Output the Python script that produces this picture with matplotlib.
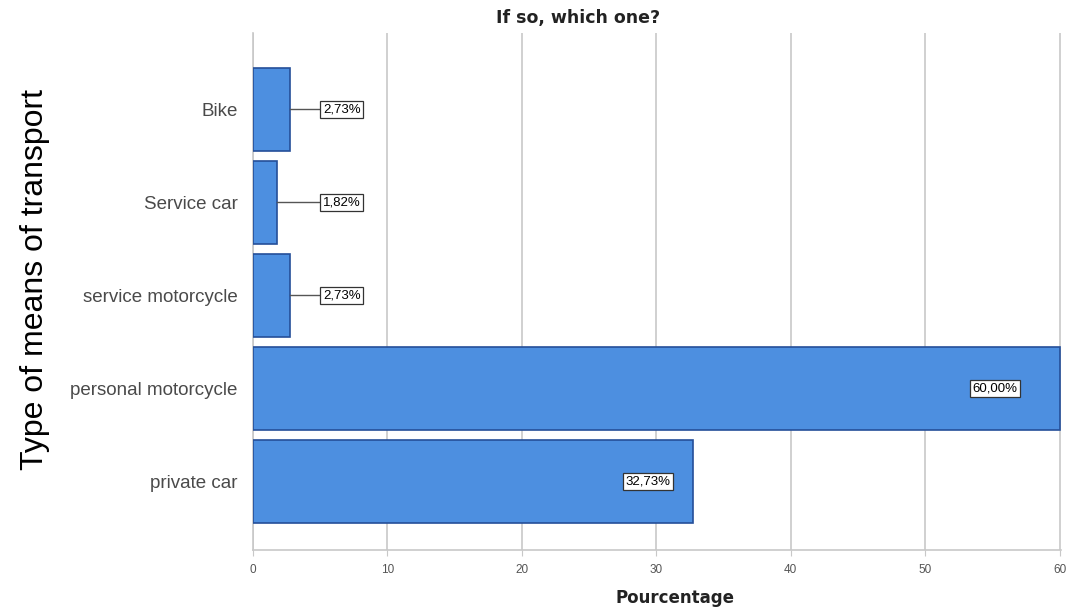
import matplotlib.pyplot as plt

# data (bottom to top)
categories = ['private car', 'personal motorcycle', 'service motorcycle',
              'Service car', 'Bike']
percentages = [32.73, 60.00, 2.73, 1.82, 2.73]
xticks = [0, 10, 20, 30, 40, 50, 60]

BAR_COLOR = '#4d8fe0'
EDGE_COLOR = '#254f99'
GRID_COLOR = '#c8c8c8'

fig = plt.figure(figsize=(10.7, 6.13), dpi=100)
ax = fig.add_axes([253 / 1070, 1 - 550 / 613, (1061 - 253) / 1070, (550 - 33) / 613])

ypos = list(range(len(categories)))
ax.barh(ypos, percentages, height=0.89, color=BAR_COLOR,
        edgecolor=EDGE_COLOR, linewidth=1.2, zorder=3)

ax.set_xlim(0, 60.1)
ax.set_ylim(-0.74, len(categories) - 1 + 0.82)
ax.set_xticks(xticks)
ax.set_xticklabels([str(t) for t in xticks], fontsize=8.5, color='#555555',
                   family='Liberation Sans')
ax.set_yticks(ypos)
ax.set_yticklabels(categories, fontsize=13.5, color='#4a4a4a',
                   family='Liberation Sans')
ax.tick_params(axis='y', length=0, pad=11)
ax.tick_params(axis='x', length=4, color=GRID_COLOR, pad=6)

for side in ['top', 'right']:
    ax.spines[side].set_visible(False)
for side in ['left', 'bottom']:
    ax.spines[side].set_color(GRID_COLOR)
    ax.spines[side].set_linewidth(1.2)
ax.xaxis.grid(True, color=GRID_COLOR, linewidth=1.2, zorder=0)

# value labels: boxed, outside with a leader line for small bars
box = dict(boxstyle='square,pad=0.2', facecolor='white', edgecolor='#333333',
           linewidth=0.9)
for y, v in zip(ypos, percentages):
    txt = f'{v:.2f}%'.replace('.', ',')
    if v < 10:
        ax.plot([v, 5.2], [y, y], color='#555555', linewidth=1, zorder=4)
        ax.text(5.2, y, txt, ha='left', va='center', fontsize=9.5,
                family='Liberation Sans', bbox=box, zorder=5)
    else:
        ax.text(v * 0.948, y, txt, ha='right', va='center', fontsize=9.5,
                family='Liberation Sans', bbox=box, zorder=5)

fig.text(578 / 1070, 1 - 18 / 613, 'If so, which one?', ha='center',
         va='center', fontsize=12.5, fontweight='bold', color='#222222')
fig.text(675 / 1070, 1 - 598 / 613, 'Pourcentage', ha='center', va='center',
         fontsize=12, fontweight='bold', color='#222222')
fig.text(35 / 1070, 1 - 279 / 613, 'Type of means of transport', rotation=90,
         ha='center', va='center', fontsize=23, family='Liberation Sans')

fig.savefig('out.png', dpi=100)
